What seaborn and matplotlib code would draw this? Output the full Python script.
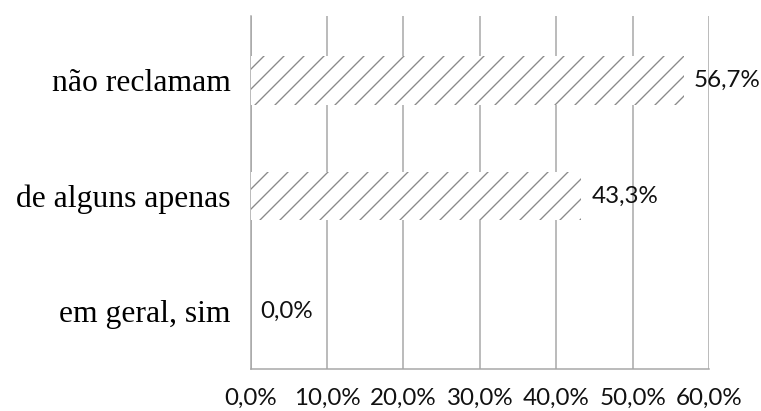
import matplotlib
matplotlib.use("Agg")
import matplotlib.pyplot as plt
from matplotlib.ticker import FixedLocator, FuncFormatter
import seaborn as sns
import pandas as pd

# Survey answers and their shares (%)
categories = ["não reclamam", "de alguns apenas", "em geral, sim"]
values = [56.7, 43.3, 0.0]
x_ticks = [0, 10, 20, 30, 40, 50, 60]

df = pd.DataFrame({"categoria": categories, "percentual": values})

sns.set_style("white")
DPI = 120
plt.rcParams["hatch.color"] = "#8a8a8a"
plt.rcParams["hatch.linewidth"] = 0.8

fig = plt.figure(figsize=(761 / DPI, 411 / DPI), dpi=DPI)
ax = fig.add_axes([250.7 / 761, 42 / 411, (709 - 250.7) / 761, (369 - 16) / 411])

grey = "#a6a6a6"

sns.barplot(data=df, x="percentual", y="categoria", orient="h", ax=ax,
            color="white", edgecolor="#8a8a8a", linewidth=0, hatch="//",
            width=0.42, zorder=3)

ax.set_xlim(0, 60)
ax.set_ylim(2.5, -0.558)
ax.set_xlabel("")
ax.set_ylabel("")

# vertical gridlines only
ax.set_axisbelow(True)
ax.xaxis.set_major_locator(FixedLocator(x_ticks))
ax.grid(axis="x", color=grey, linewidth=0.9)
ax.grid(axis="y", visible=False)
ax.xaxis.set_major_formatter(FuncFormatter(lambda v, p: f"{v:.1f}%".replace(".", ",")))

for side in ("top", "right"):
    ax.spines[side].set_visible(False)
for side in ("left", "bottom"):
    ax.spines[side].set_color(grey)
    ax.spines[side].set_linewidth(0.9)
    ax.spines[side].set_zorder(2)

ax.tick_params(axis="x", which="major", length=6.6, width=0.9, color=grey,
               pad=5, labelsize=14.5, labelcolor="#111111")
for lbl in ax.get_xticklabels():
    lbl.set_fontfamily("Lato")

# category boundaries as minor ticks on the y axis
ax.yaxis.set_minor_locator(FixedLocator([0.5, 1.5, 2.5]))
ax.tick_params(axis="y", which="minor", length=6, width=0.9, color=grey)
ax.tick_params(axis="y", which="major", length=0, pad=12, labelsize=19,
               labelcolor="black")
for lbl in ax.get_yticklabels():
    lbl.set_fontfamily("Liberation Serif")

# value labels next to each bar
for i, v in enumerate(values):
    ax.annotate(f"{v:.1f}%".replace(".", ","), xy=(v, i), xytext=(6, 0),
                textcoords="offset points", va="center", ha="left",
                fontsize=14.5, fontfamily="Lato", color="#111111", zorder=4)

fig.savefig("out.png", dpi=DPI, facecolor="white")
